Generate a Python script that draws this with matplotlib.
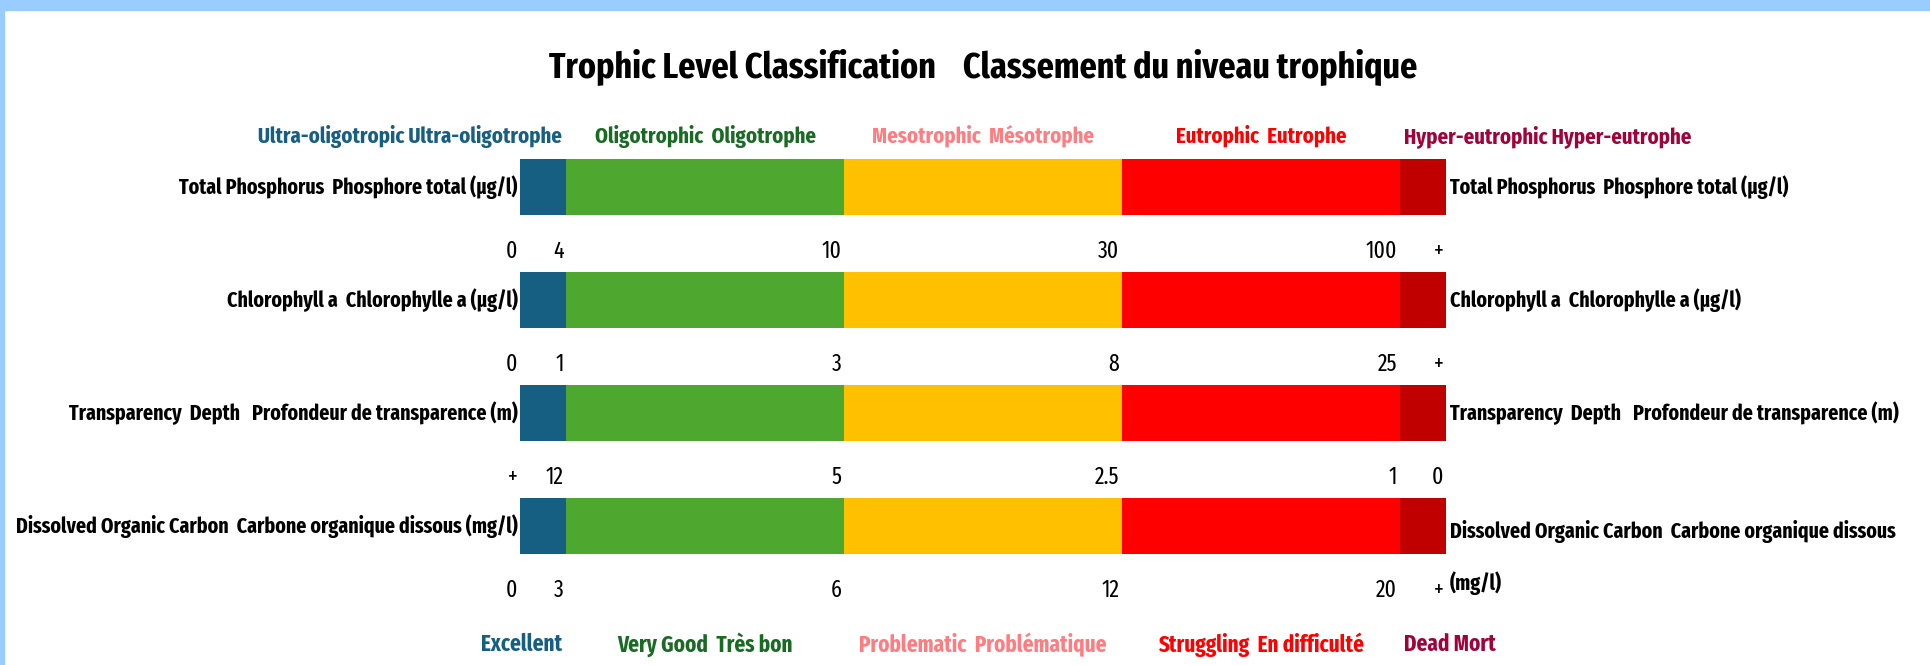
import matplotlib
matplotlib.use("Agg")
import matplotlib.pyplot as plt
from matplotlib.patches import Rectangle

# ---- data -----------------------------------------------------------------
TITLE = "Trophic Level Classification    Classement du niveau trophique"

PARAMETERS = [
    "Total Phosphorus  Phosphore total (µg/l)",
    "Chlorophyll a  Chlorophylle a (µg/l)",
    "Transparency  Depth   Profondeur de transparence (m)",
    "Dissolved Organic Carbon  Carbone organique dissous (mg/l)",
]
PARAMETERS_RIGHT = [
    "Total Phosphorus  Phosphore total (µg/l)",
    "Chlorophyll a  Chlorophylle a (µg/l)",
    "Transparency  Depth   Profondeur de transparence (m)",
    "Dissolved Organic Carbon  Carbone organique dissous\n(mg/l)",
]

LEVELS = [
    "Ultra-oligotropic Ultra-oligotrophe",
    "Oligotrophic  Oligotrophe",
    "Mesotrophic  Mésotrophe",
    "Eutrophic  Eutrophe",
    "Hyper-eutrophic Hyper-eutrophe",
]
STATUS = [
    "Excellent",
    "Very Good  Très bon",
    "Problematic  Problématique",
    "Struggling  En difficulté",
    "Dead Mort",
]

# relative width of each class band on the bar
SEGMENT_WIDTHS = [1, 6, 6, 6, 1]

# threshold labels at the band boundaries, one list per parameter
THRESHOLDS = [
    ["0", "4", "10", "30", "100", "+"],
    ["0", "1", "3", "8", "25", "+"],
    ["+", "12", "5", "2.5", "1", "0"],
    ["0", "3", "6", "12", "20", "+"],
]

BAR_COLORS = ["#175E83", "#4EA72E", "#FFC000", "#FF0000", "#C00000"]
TEXT_COLORS = ["#175E83", "#196B24", "#FF7C80", "#FF0000", "#A0033A"]

# ---- figure ---------------------------------------------------------------
plt.rcParams["font.family"] = ["Fira Sans Extra Condensed", "DejaVu Sans"]

W, H = 1931, 665
fig = plt.figure(figsize=(W / 100, H / 100), dpi=100)
fig.patch.set_facecolor("white")

# light blue frame (top band + left strip)
fig.patches.append(Rectangle((0, 1 - 10 / H), 1, 10 / H, transform=fig.transFigure,
                             color="#99CCFF", zorder=0))
fig.patches.append(Rectangle((0, 0), 4 / W, 1, transform=fig.transFigure,
                             color="#99CCFF", zorder=0))

ax = fig.add_axes([520 / W, 0, 926 / W, 1])
ax.set_xlim(0, sum(SEGMENT_WIDTHS))
ax.set_ylim((H - 187) / 113, -187 / 113)
ax.axis("off")

rows = list(range(len(PARAMETERS)))
left = 0
bounds = [0]
for width, color in zip(SEGMENT_WIDTHS, BAR_COLORS):
    ax.barh(rows, width, left=left, height=0.5, color=color, linewidth=0)
    left += width
    bounds.append(left)

x_end = bounds[-1]
centers = [(a + b) / 2 for a, b in zip(bounds[:-1], bounds[1:])]

# title
ax.text(x_end / 2, -1.07, TITLE, ha="center", va="center",
        fontsize=26.5, fontweight="bold")

# header (trophic levels) and footer (status)
for i, (lev, stat, tcol) in enumerate(zip(LEVELS, STATUS, TEXT_COLORS)):
    if i == 0:
        x, ha = bounds[1] - 0.1, "right"
    elif i == len(LEVELS) - 1:
        x, ha = bounds[-2] + 0.1, "left"
    else:
        x, ha = centers[i], "center"
    ax.text(x, -0.45, lev, ha=ha, va="center", color=tcol,
            fontsize=16.2, fontweight="bold")
    ax.text(x, 4.05, stat, ha=ha, va="center", color=tcol,
            fontsize=16.5, fontweight="bold")

# row labels on both sides
for r, (lab, lab_r) in enumerate(zip(PARAMETERS, PARAMETERS_RIGHT)):
    ax.text(-0.05, r, lab, ha="right", va="center",
            fontsize=15.6, fontweight="bold")
    if "\n" in lab_r:
        # wrapped label: baseline of the last line sits under the bar
        ax.text(x_end + 0.09, r + 0.565, lab_r, ha="left", va="baseline",
                fontsize=15.6, fontweight="bold", linespacing=2.5)
    else:
        ax.text(x_end + 0.09, r, lab_r, ha="left", va="center",
                fontsize=15.6, fontweight="bold")

# threshold values under each bar
for r, labels in enumerate(THRESHOLDS):
    for b, lab in zip(bounds, labels):
        ax.text(b - 0.06, r + 0.57, lab, ha="right", va="center", fontsize=17)

fig.savefig("out.png", dpi=100, facecolor=fig.get_facecolor())
